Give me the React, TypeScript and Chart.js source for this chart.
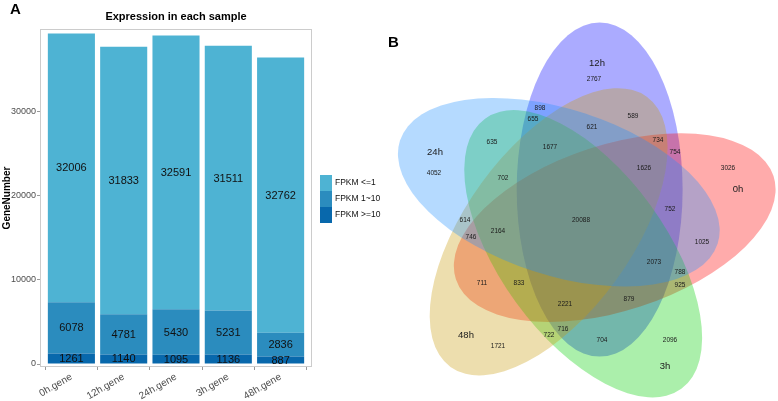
import React, { useEffect, useRef } from "react";
import { Chart, registerables } from "chart.js";

Chart.register(...registerables);

// ---------- Panel A data ----------
const categories = ["0h.gene", "12h.gene", "24h.gene", "3h.gene", "48h.gene"];
const fpkmHigh = [1261, 1140, 1095, 1136, 887]; // FPKM >=10
const fpkmMid = [6078, 4781, 5430, 5231, 2836]; // FPKM 1~10
const fpkmLow = [32006, 31833, 32591, 31511, 32762]; // FPKM <=1
const yTickValues = [0, 10000, 20000, 30000];
const seriesNames = ["FPKM >=10", "FPKM 1~10", "FPKM <=1"];
const seriesColors = ["#0868AC", "#2B8CBE", "#4EB3D3"];

// ---------- Panel B data ----------
const vennSetNames = ["12h", "0h", "3h", "48h", "24h"]; // drawing order
const vennSetColors = [
  "rgba(0,0,255,0.33)",
  "rgba(255,0,0,0.33)",
  "rgba(0,205,0,0.33)",
  "rgba(200,155,10,0.33)",
  "rgba(30,144,255,0.33)",
];
const vennCenterAngle = [57.6, -14.4, -86.4, 201.6, 129.6];
const vennAxisAngle = [90, 18, 306, 234, 162];
const vennSetLabelX = [16, 157, 84, -115, -146];
const vennSetLabelY = [156, 30, -147, -116, 67];
const vennCounts = [
  2767, 898, 655, 589, 621, 734, 754, 635, 1677, 4052, 702, 1626, 3026, 752,
  614, 20088, 2164, 746, 1025, 2073, 788, 711, 833, 925, 879, 2221, 716, 722,
  704, 2096, 1721,
];
const vennCountX = [
  13, -41, -48, 52, 11, 77, 94, -89, -31, -147, -78, 63, 147, 89, -116, 0, -83,
  -110, 121, 73, 99, -99, -62, 99, 48, -16, -18, -32, 21, 89, -83,
];
const vennCountY = [
  140, 111, 100, 103, 92, 79, 67, 77, 72, 46, 41, 51, 51, 10, -1, -1, -12, -18,
  -23, -43, -53, -64, -64, -66, -80, -85, -110, -116, -121, -121, -127,
];

const FONT = "'Liberation Sans', Arial, Helvetica, sans-serif";

function BarPanel() {
  const ref = useRef<HTMLCanvasElement | null>(null);
  useEffect(() => {
    if (!ref.current) return;
    const values = [fpkmHigh, fpkmMid, fpkmLow];
    const labelPlugin = {
      id: "panelExtras",
      beforeDatasetsDraw(chart: any) {
        const { ctx, chartArea } = chart;
        ctx.save();
        ctx.strokeStyle = "#cccccc";
        ctx.lineWidth = 1;
        ctx.strokeRect(
          chartArea.left + 0.5,
          chartArea.top + 0.5,
          chartArea.right - chartArea.left - 1,
          chartArea.bottom - chartArea.top - 1
        );
        ctx.restore();
      },
      afterDatasetsDraw(chart: any) {
        const { ctx, chartArea } = chart;
        ctx.save();
        ctx.font = `11px ${FONT}`;
        ctx.fillStyle = "#111";
        ctx.textAlign = "center";
        ctx.textBaseline = "middle";
        chart.data.datasets.forEach((ds: any, di: number) => {
          const meta = chart.getDatasetMeta(di);
          meta.data.forEach((el: any, i: number) => {
            const p = el.getProps(["x", "y", "base"], true);
            ctx.fillText(String(ds.data[i].y), p.x, (p.y + p.base) / 2 + 0.5);
          });
        });
        // panel letter
        ctx.font = `bold 15px ${FONT}`;
        ctx.textAlign = "left";
        ctx.textBaseline = "alphabetic";
        ctx.fillStyle = "#000";
        ctx.fillText("A", 10, 14);
        // legend
        const lx = chartArea.right + 8;
        let ly = 175;
        ctx.font = `8.5px ${FONT}`;
        ctx.textBaseline = "middle";
        for (let k = seriesNames.length - 1; k >= 0; k--) {
          ctx.fillStyle = seriesColors[k];
          ctx.fillRect(lx, ly, 12, 16);
          ctx.fillStyle = "#111";
          ctx.fillText(seriesNames[k], lx + 15, ly + 8);
          ly += 16;
        }
        ctx.restore();
      },
    };
    const chart = new Chart(ref.current, {
      type: "bar",
      data: {
        datasets: values.map((vals, k) => ({
          label: seriesNames[k],
          data: vals.map((v, i) => ({ x: i + 1, y: v })),
          backgroundColor: seriesColors[k],
          borderWidth: 0,
          barPercentage: 0.9,
          categoryPercentage: 1,
        })),
      },
      options: {
        animation: false,
        responsive: true,
        maintainAspectRatio: false,
        events: [],
        layout: { padding: { left: 0, right: 73, top: 0, bottom: 0 } },
        plugins: {
          legend: { display: false },
          tooltip: { enabled: false },
          title: {
            display: true,
            text: "Expression in each sample",
            color: "#000",
            fullSize: false,
            font: { family: FONT, size: 11, weight: "bold" },
            padding: { top: 10.5, bottom: 5.3 },
          },
        },
        scales: {
          x: {
            type: "linear",
            stacked: true,
            min: 0.4,
            max: 5.6,
            offset: false,
            afterBuildTicks(scale: any) {
              scale.ticks = categories.map((_, i) => ({ value: i + 1 }));
            },
            afterFit(scale: any) {
              scale.height = 34;
            },
            ticks: {
              autoSkip: false,
              minRotation: 30,
              maxRotation: 30,
              padding: 1,
              color: "#4d4d4d",
              font: { family: FONT, size: 10 },
              callback: (v: any) => categories[Math.round(v) - 1] ?? "",
            },
            grid: {
              display: true,
              drawOnChartArea: false,
              drawTicks: true,
              tickLength: 3,
              color: "#999",
            },
            border: { display: false },
          },
          y: {
            type: "linear",
            stacked: true,
            min: -357,
            max: 39880,
            afterBuildTicks(scale: any) {
              scale.ticks = yTickValues.map((v) => ({ value: v }));
            },
            afterFit(scale: any) {
              scale.width = 40;
            },
            ticks: {
              padding: 1,
              color: "#4d4d4d",
              font: { family: FONT, size: 9 },
              callback: (v: any) => String(v),
            },
            grid: {
              display: true,
              drawOnChartArea: false,
              drawTicks: true,
              tickLength: 3,
              color: "#999",
            },
            border: { display: false },
            title: {
              display: true,
              text: "GeneNumber",
              color: "#000",
              font: { family: FONT, size: 10, weight: "bold" },
              padding: { top: 1, bottom: 0 },
            },
          },
        },
      } as any,
      plugins: [labelPlugin],
    });
    return () => chart.destroy();
  }, []);
  return (
    <div style={{ position: "absolute", left: 0, top: 0, width: 385, height: 401 }}>
      <canvas ref={ref} />
    </div>
  );
}

function VennPanel() {
  const ref = useRef<HTMLCanvasElement | null>(null);
  useEffect(() => {
    if (!ref.current) return;
    const centerDist = 34.8;
    const semiMajor = 167;
    const semiMinor = 83;
    const vennPlugin = {
      id: "vennShapes",
      beforeDatasetsDraw(chart: any) {
        const { ctx } = chart;
        const xs = chart.scales.x;
        const ys = chart.scales.y;
        const unitX = xs.getPixelForValue(1) - xs.getPixelForValue(0);
        ctx.save();
        vennSetNames.forEach((_, i) => {
          const phi = (vennCenterAngle[i] * Math.PI) / 180;
          const cx = xs.getPixelForValue(centerDist * Math.cos(phi));
          const cy = ys.getPixelForValue(centerDist * Math.sin(phi));
          ctx.beginPath();
          ctx.ellipse(
            cx,
            cy,
            semiMajor * unitX,
            semiMinor * unitX,
            (-vennAxisAngle[i] * Math.PI) / 180,
            0,
            Math.PI * 2
          );
          ctx.fillStyle = vennSetColors[i];
          ctx.fill();
        });
        ctx.restore();
      },
      afterDatasetsDraw(chart: any) {
        const { ctx } = chart;
        ctx.save();
        ctx.textAlign = "center";
        ctx.textBaseline = "middle";
        chart.data.datasets.forEach((ds: any, di: number) => {
          const meta = chart.getDatasetMeta(di);
          ctx.font = di === 0 ? `6.5px ${FONT}` : `9.5px ${FONT}`;
          ctx.fillStyle = "#1a1a1a";
          meta.data.forEach((el: any, i: number) => {
            const p = el.getProps(["x", "y"], true);
            ctx.fillText(String(ds.data[i].t), p.x, p.y);
          });
        });
        ctx.font = `bold 15px ${FONT}`;
        ctx.fillStyle = "#000";
        ctx.textAlign = "left";
        ctx.textBaseline = "alphabetic";
        ctx.fillText("B", 3, 47);
        ctx.restore();
      },
    };
    const chart = new Chart(ref.current, {
      type: "scatter",
      data: {
        datasets: [
          {
            label: "counts",
            data: vennCounts.map((c, i) => ({ x: vennCountX[i], y: vennCountY[i], t: c })),
            pointRadius: 0,
          },
          {
            label: "sets",
            data: vennSetNames.map((n, i) => ({ x: vennSetLabelX[i], y: vennSetLabelY[i], t: n })),
            pointRadius: 0,
          },
        ],
      },
      options: {
        animation: false,
        responsive: true,
        maintainAspectRatio: false,
        events: [],
        layout: { padding: 0 },
        plugins: { legend: { display: false }, tooltip: { enabled: false } },
        scales: {
          x: { type: "linear", display: false, min: -196, max: 197 },
          y: { type: "linear", display: false, min: -182, max: 219 },
        },
      } as any,
      plugins: [vennPlugin],
    });
    return () => chart.destroy();
  }, []);
  return (
    <div style={{ position: "absolute", left: 385, top: 0, width: 393, height: 401 }}>
      <canvas ref={ref} />
    </div>
  );
}

export default function App() {
  return (
    <div
      style={{
        position: "fixed",
        left: 0,
        top: 0,
        width: 778,
        height: 401,
        background: "#fff",
        overflow: "hidden",
      }}
    >
      <BarPanel />
      <VennPanel />
    </div>
  );
}
